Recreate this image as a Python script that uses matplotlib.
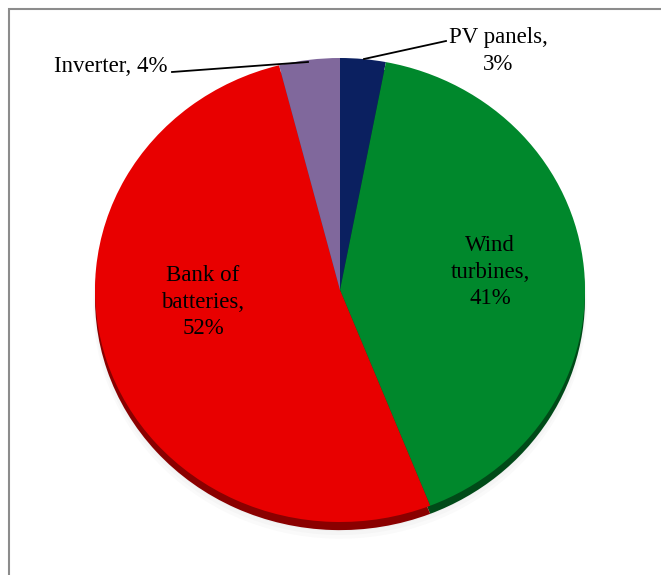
import matplotlib
matplotlib.use("Agg")
import matplotlib.pyplot as plt
import numpy as np

labels = ["PV panels", "Wind turbines", "Bank of batteries", "Inverter"]
shares = [3, 41, 52, 4]
colors = ["#0b2060", "#00882c", "#e80000", "#80689c"]
rim_colors = ["#06123a", "#004a18", "#8a0000", "#4c3d5e"]

plt.rcParams["font.family"] = ["Liberation Serif", "DejaVu Serif"]

W, H = 661, 575
fig = plt.figure(figsize=(W / 100, H / 100), dpi=100)
ax = fig.add_axes([0, 0, 1, 1])

# pie geometry in pixels
cx, cy = 340, 290
rx, ry = 245, 232

# unit circle -> ellipse via axis limits
ax.set_xlim(-cx / rx, (W - cx) / rx)
ax.set_ylim(-(H - cy) / ry, cy / ry)

# soft shadow
for k, a in enumerate([0.04, 0.04, 0.04]):
    ax.pie(shares, startangle=90, counterclock=False, colors=["#888888"] * 4,
           center=(0.0, -0.04 - 0.012 * k), radius=1.0 + 0.004 * k,
           wedgeprops=dict(alpha=a, linewidth=0))

# rim (side of the disc)
ax.pie(shares, startangle=90, counterclock=False, colors=rim_colors,
       center=(0, -0.035), radius=1.0, wedgeprops=dict(linewidth=0))
# top face
ax.pie(shares, startangle=90, counterclock=False, colors=colors,
       center=(0, 0), radius=1.0, wedgeprops=dict(linewidth=0))

ax.set_xlim(-cx / rx, (W - cx) / rx)
ax.set_ylim(-(H - cy) / ry, cy / ry)
ax.set_aspect("auto")
ax.axis("off")

def px(x, y):
    return ((x - cx) / rx, (cy - y) / ry)

fs = 16.5
ls = 1.35
ax.text(*px(490, 272), "Wind\nturbines,\n%d%%" % shares[1], ha="center", va="center",
        fontsize=fs, linespacing=ls)
ax.text(*px(203, 302), "Bank of\nbatteries,\n%d%%" % shares[2], ha="center", va="center",
        fontsize=fs, linespacing=ls)
ax.text(*px(498, 51), "PV panels,\n%d%%" % shares[0], ha="center", va="center",
        fontsize=fs, linespacing=ls)
ax.text(*px(168, 67), "Inverter, %d%%" % shares[3], ha="right", va="center",
        fontsize=fs)

# leader lines
ax.plot(*zip(px(364, 59), px(446, 41)), color="black", lw=1.3)
ax.plot(*zip(px(172, 72), px(308, 62)), color="black", lw=1.3)

# chart frame (extends past the right/bottom edge)
frame = plt.Rectangle((9 / W, -0.1), 1.0, 1 - 9 / H + 0.1, transform=fig.transFigure,
                      fill=False, edgecolor="#8c8c8c", lw=1.5)
fig.add_artist(frame)

fig.savefig("out.png", dpi=100)
